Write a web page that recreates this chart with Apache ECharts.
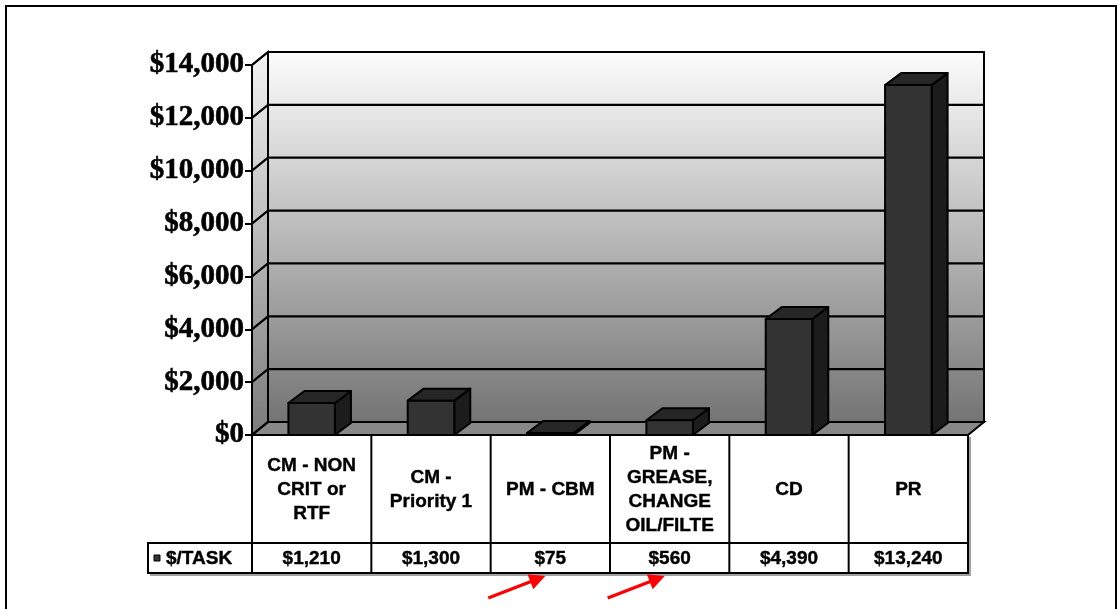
<!DOCTYPE html>
<html>
<head>
<meta charset="utf-8">
<script src="https://cdn.jsdelivr.net/npm/echarts@6/dist/echarts.min.js"></script>
<style>
html,body{margin:0;padding:0;background:#fff;}
#chart{width:1118px;height:609px;}
</style>
</head>
<body>
<div id="chart"></div>
<script>
// ---- data ----
const categories = ['CM - NON\nCRIT or\nRTF', 'CM -\nPriority 1', 'PM - CBM', 'PM -\nGREASE,\nCHANGE\nOIL/FILTE', 'CD', 'PR'];
const values = [1210, 1300, 75, 560, 4390, 13240];
const seriesName = '$/TASK';
const yMin = 0, yMax = 14000, yInterval = 2000;
const highlighted = [2, 3]; // columns pointed at by red arrows

const yTicks = [];
for (let v = yMin; v <= yMax; v += yInterval) yTicks.push(v);
const money = v => '$' + v.toLocaleString('en-US');

const chart = echarts.init(document.getElementById('chart'), null, {renderer: 'canvas'});

const DX = 16, DY = 13;          // wall depth
const BDX = 16, BDY = 12;        // bar depth
const HEADER_H = 108, VALUE_H = 30, ROWLABEL_W = 104;
const TXT = 'bold 19px "Liberation Sans", Arial, sans-serif';

function backdrop(params, api) {
  if (params.dataIndex !== 0) return;
  const cs = params.coordSys;
  const gx = cs.x, gy = cs.y, gw = cs.width, gh = cs.height;
  const by = gy + gh;
  const wallGrad = new echarts.graphic.LinearGradient(0, 0, 0, 1, [
    {offset: 0, color: '#fdfdfd'}, {offset: 1, color: '#747474'}]);
  const sideGrad = new echarts.graphic.LinearGradient(0, 0, 0, 1, [
    {offset: 0, color: '#f4f4f4'}, {offset: 1, color: '#7a7a7a'}]);
  const blk = {stroke: '#000', lineWidth: 2};
  const ch = [];
  // side wall
  ch.push({type: 'polygon', shape: {points: [[gx, gy], [gx + DX, gy - DY], [gx + DX, by - DY], [gx, by]]},
    style: Object.assign({fill: sideGrad}, blk)});
  // back wall
  ch.push({type: 'rect', shape: {x: gx + DX, y: gy - DY, width: gw, height: gh},
    style: Object.assign({fill: wallGrad}, blk)});
  // floor
  ch.push({type: 'polygon', shape: {points: [[gx, by], [gx + DX, by - DY], [gx + gw + DX, by - DY], [gx + gw, by]]},
    style: Object.assign({fill: '#888888'}, blk)});
  // gridlines
  yTicks.forEach(v => {
    const y = api.coord([0, v])[1];
    ch.push({type: 'polyline', shape: {points: [[gx, y], [gx + DX, y - DY], [gx + gw + DX, y - DY]]},
      style: {stroke: '#000', lineWidth: 2.2, fill: null}});
  });
  // data table
  const n = categories.length;
  const bw = gw / n;
  const t0 = by, t1 = by + HEADER_H, t2 = t1 + VALUE_H;
  // shadow
  ch.push({type: 'polyline', shape: {points: [[gx - ROWLABEL_W + 2, t2 + 2], [gx + gw + 2, t2 + 2], [gx + gw + 2, t0 + 2]]},
    style: {stroke: '#a0a0a0', lineWidth: 2, fill: null}});
  ch.push({type: 'rect', shape: {x: gx, y: t0, width: gw, height: t2 - t0}, style: Object.assign({fill: '#fff'}, blk)});
  ch.push({type: 'rect', shape: {x: gx - ROWLABEL_W, y: t1, width: ROWLABEL_W, height: VALUE_H}, style: Object.assign({fill: '#fff'}, blk)});
  ch.push({type: 'line', shape: {x1: gx, y1: t1, x2: gx + gw, y2: t1}, style: blk});
  for (let i = 1; i < n; i++) {
    ch.push({type: 'line', shape: {x1: gx + i * bw, y1: t0, x2: gx + i * bw, y2: t2}, style: blk});
  }
  for (let i = 0; i < n; i++) {
    const cx = api.coord([i, 0])[0];
    ch.push({type: 'text', style: {text: categories[i], x: cx, y: (t0 + t1) / 2 + 1, align: 'center', verticalAlign: 'middle',
      font: TXT, lineHeight: 24, fill: '#000', stroke: '#000', lineWidth: 0.4}});
    ch.push({type: 'text', style: {text: money(values[i]), x: cx, y: (t1 + t2) / 2 + 1, align: 'center', verticalAlign: 'middle',
      font: TXT, fill: '#000', stroke: '#000', lineWidth: 0.4}});
  }
  // legend key + series name
  const lx = gx - ROWLABEL_W;
  ch.push({type: 'rect', shape: {x: lx + 6, y: (t1 + t2) / 2 - 3, width: 6, height: 6}, style: {fill: '#333', stroke: '#000', lineWidth: 1}});
  ch.push({type: 'text', style: {text: seriesName, x: lx + 18, y: (t1 + t2) / 2 + 1, align: 'left', verticalAlign: 'middle', font: TXT,
    fill: '#000', stroke: '#000', lineWidth: 0.4}});
  // red arrows
  highlighted.forEach(i => {
    const cx = api.coord([i, 0])[0];
    const tip = [cx - 5, t2 + 3];
    const tail = [cx - 62, t2 + 25];
    const ang = Math.atan2(tip[1] - tail[1], tip[0] - tail[0]);
    const L = 16, W = 8;
    const base = [tip[0] - L * Math.cos(ang), tip[1] - L * Math.sin(ang)];
    const px = -Math.sin(ang), py = Math.cos(ang);
    ch.push({type: 'line', shape: {x1: tail[0], y1: tail[1], x2: base[0] + 2 * Math.cos(ang), y2: base[1] + 2 * Math.sin(ang)},
      style: {stroke: '#ff0000', lineWidth: 3.2}});
    ch.push({type: 'polygon', shape: {points: [tip, [base[0] + px * W, base[1] + py * W], [base[0] - px * W, base[1] - py * W]]},
      style: {fill: '#ff0000'}});
  });
  return {type: 'group', children: ch};
}

function bar3d(params, api) {
  const i = api.value(0), v = api.value(1);
  const top = api.coord([i, v]);
  const bot = api.coord([i, 0]);
  const w = api.size([1, 0])[0] * 0.39;
  const xl = top[0] - w / 2, xr = top[0] + w / 2, yt = top[1], yb = bot[1];
  const s = {stroke: '#000', lineWidth: 2, lineJoin: 'round'};
  return {type: 'group', children: [
    {type: 'polygon', shape: {points: [[xr, yt], [xr + BDX, yt - BDY], [xr + BDX, yb - BDY], [xr, yb]]}, style: Object.assign({fill: '#1c1c1c'}, s)},
    {type: 'polygon', shape: {points: [[xl, yt], [xl + BDX, yt - BDY], [xr + BDX, yt - BDY], [xr, yt]]}, style: Object.assign({fill: '#262626'}, s)},
    {type: 'rect', shape: {x: xl, y: yt, width: w, height: yb - yt}, style: Object.assign({fill: '#333333'}, s)}
  ]};
}

chart.setOption({
  animation: false,
  backgroundColor: '#fff',
  grid: {left: 252, right: 150, top: 65, bottom: 174},
  xAxis: {type: 'category', data: categories, show: false},
  yAxis: {
    type: 'value', min: yMin, max: yMax, interval: yInterval, z: 10,
    axisLine: {show: true, lineStyle: {color: '#000', width: 2}},
    axisTick: {show: true, length: 7, lineStyle: {color: '#000', width: 2}},
    splitLine: {show: false},
    axisLabel: {formatter: money, fontFamily: '"Liberation Serif", "Times New Roman", serif', fontWeight: 'bold',
      fontSize: 29, color: '#000', margin: 8, textBorderColor: '#000', textBorderWidth: 0.6}
  },
  graphic: [{type: 'rect', shape: {x: 6, y: 6, width: 1110, height: 640}, style: {fill: null, stroke: '#000', lineWidth: 2}, z: 100}],
  series: [
    {type: 'custom', name: 'backdrop', z: 1, clip: false, silent: true, renderItem: backdrop, data: [[0, 0]]},
    {type: 'custom', name: seriesName, z: 3, clip: false, renderItem: bar3d,
      data: values.map((v, i) => [i, v])}
  ]
});
</script>
</body>
</html>
